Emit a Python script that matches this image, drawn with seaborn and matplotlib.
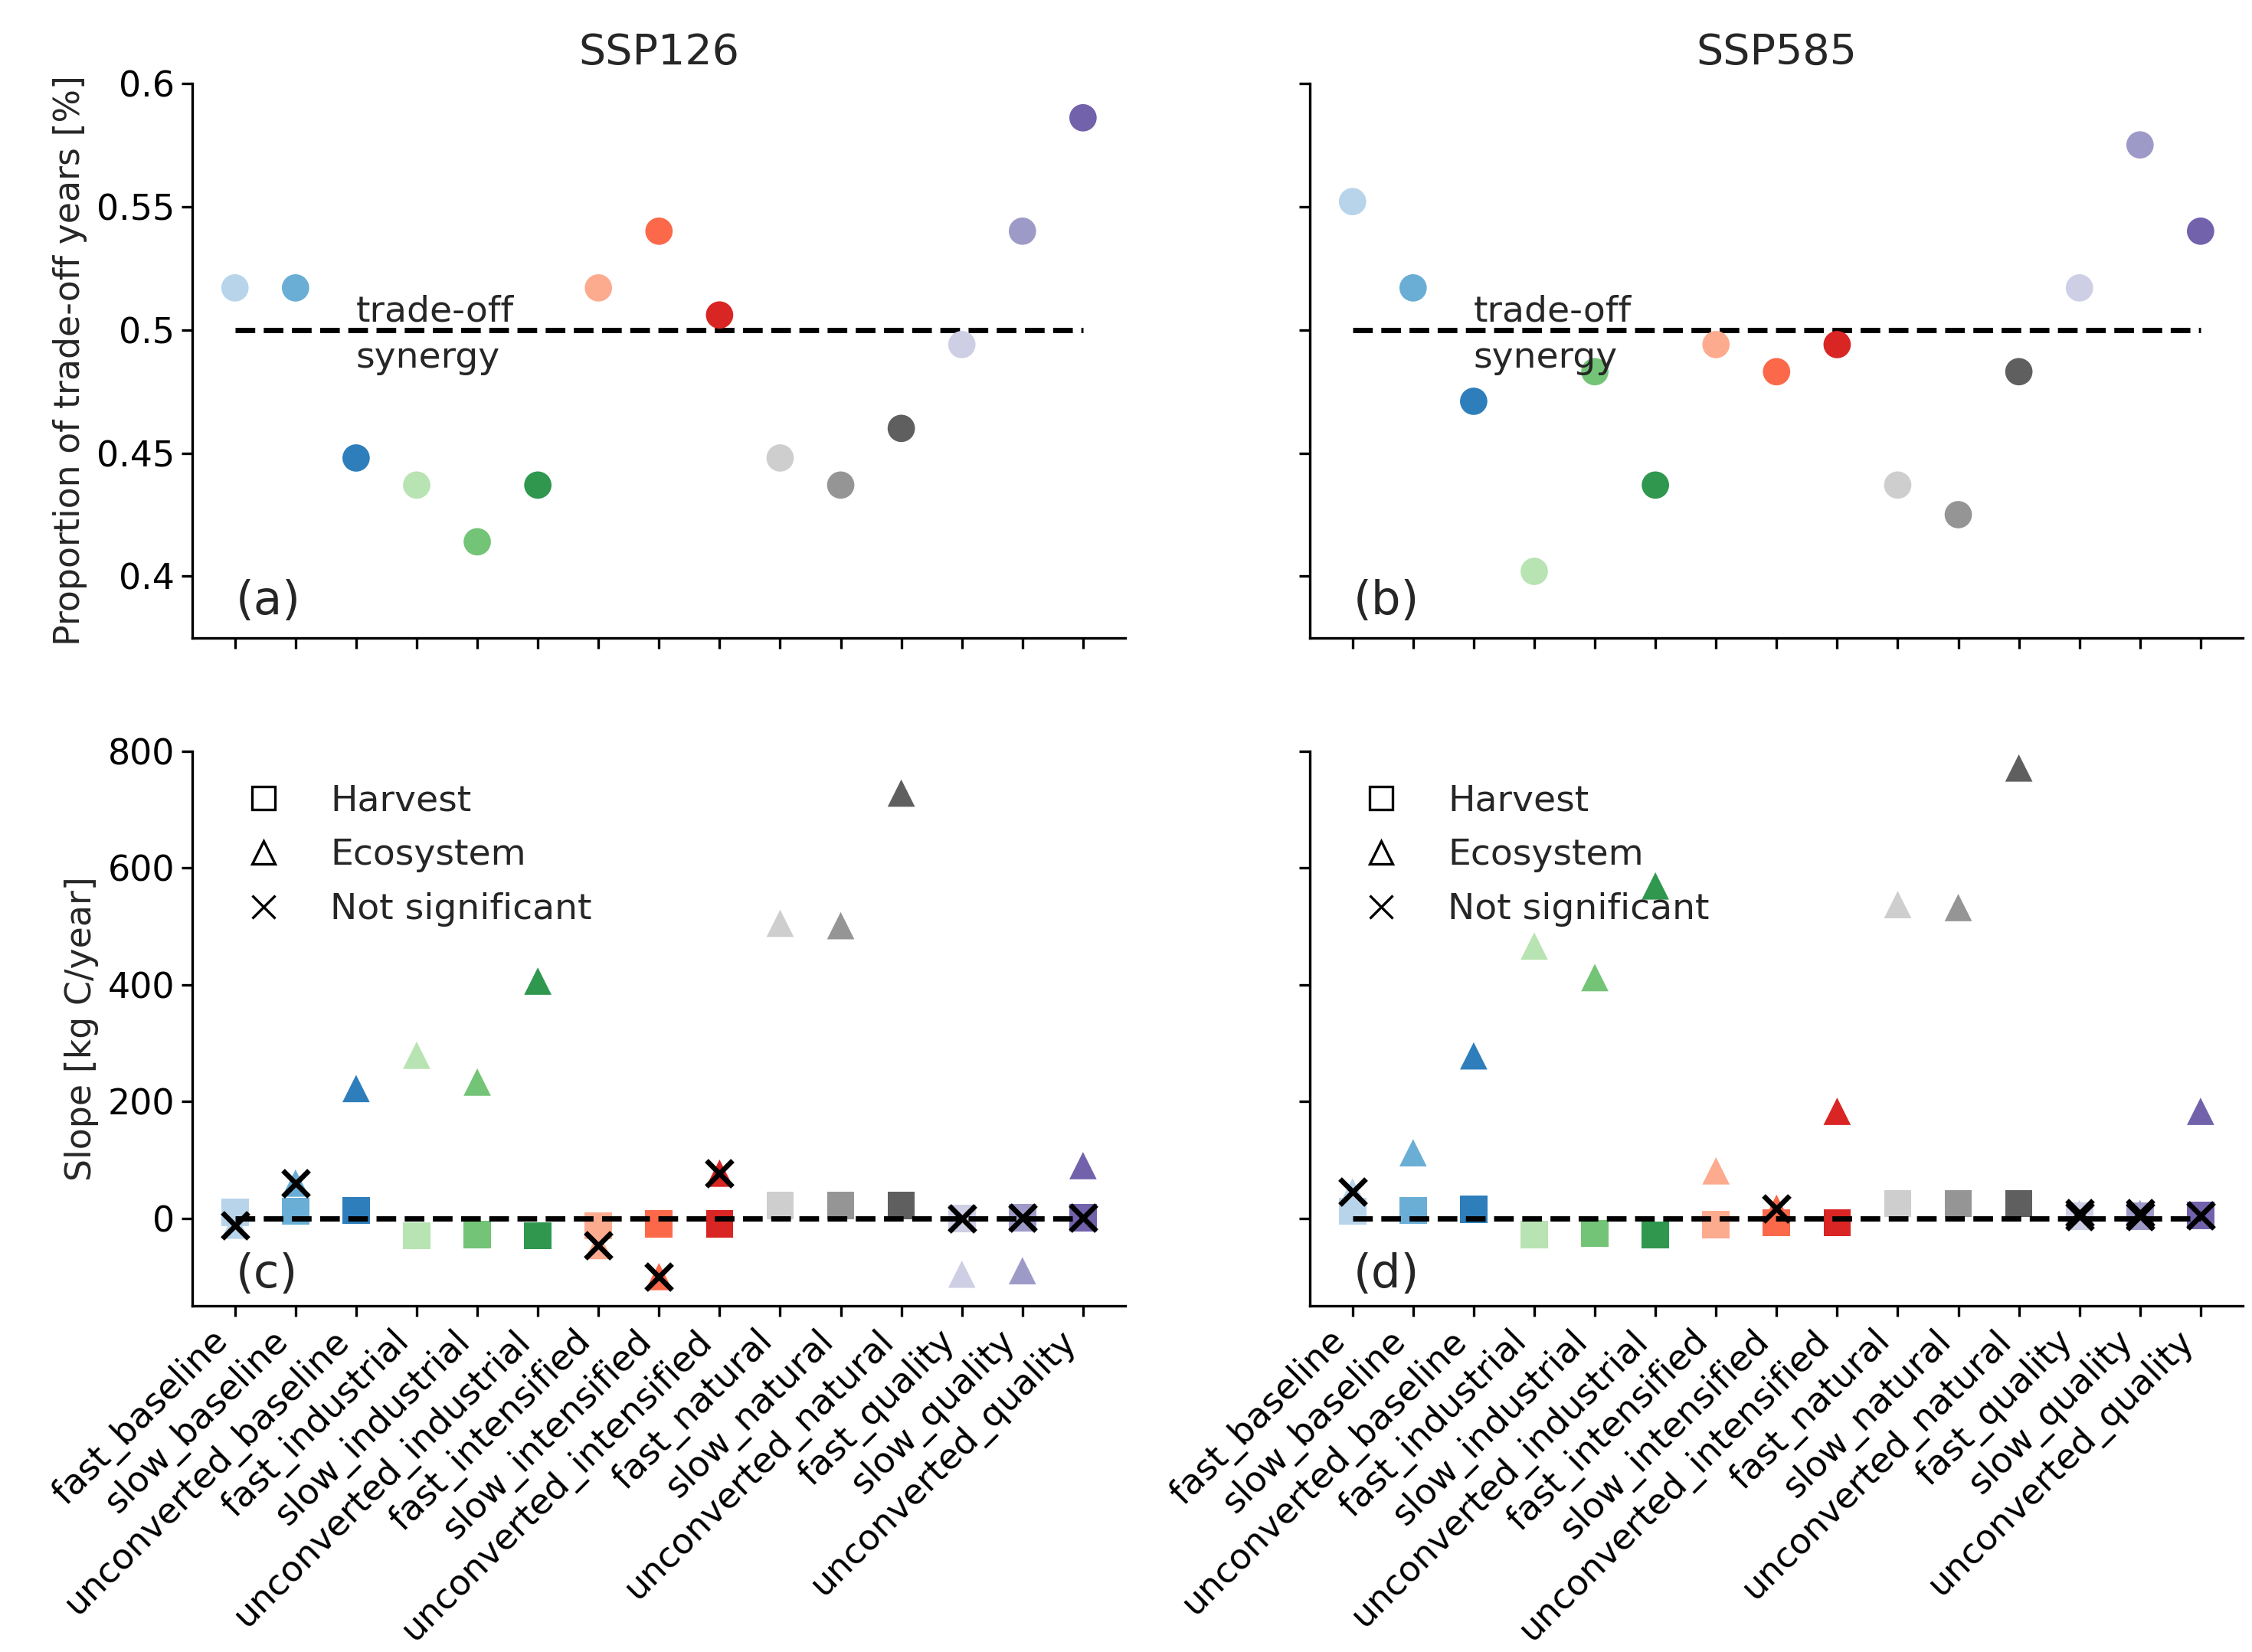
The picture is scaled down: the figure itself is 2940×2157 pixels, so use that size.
import matplotlib
matplotlib.use('Agg')
import matplotlib.pyplot as plt
from matplotlib.lines import Line2D
from matplotlib.ticker import FuncFormatter
import seaborn as sns
import numpy as np
import pandas as pd

sns.set_style('ticks')
plt.rcParams['font.family'] = ['DejaVu Sans']

cats = ['fast_baseline', 'slow_baseline', 'unconverted_baseline',
        'fast_industrial', 'slow_industrial', 'unconverted_industrial',
        'fast_intensified', 'slow_intensified', 'unconverted_intensified',
        'fast_natural', 'slow_natural', 'unconverted_natural',
        'fast_quality', 'slow_quality', 'unconverted_quality']
scenarios = ['SSP126', 'SSP585']

# proportion of trade-off years
prop_126 = [0.517, 0.517, 0.448, 0.437, 0.414, 0.437, 0.517, 0.540, 0.506,
            0.448, 0.437, 0.460, 0.494, 0.540, 0.586]
prop_585 = [0.552, 0.517, 0.471, 0.402, 0.483, 0.437, 0.494, 0.483, 0.494,
            0.437, 0.425, 0.483, 0.517, 0.575, 0.540]

# slopes [kg C/year]
harv_126 = [10, 12, 13, -30, -28, -30, -13, -10, -10, 22, 22, 22, -1, 1, 1]
eco_126 = [-12, 60, 222, 279, 233, 406, -47, -100, 77, 505, 501, 728, -96, -90, 90]
harv_585 = [12, 13, 15, -28, -26, -29, -11, -8, -8, 25, 25, 25, 3, 3, 5]
eco_585 = [45, 112, 278, 466, 412, 569, 81, 17, 183, 537, 532, 771, 8, 8, 183]

# 1 = not significant
ns_harv_126 = [0, 0, 0, 0, 0, 0, 0, 0, 0, 0, 0, 0, 1, 1, 1]
ns_eco_126 = [1, 1, 0, 0, 0, 0, 1, 1, 1, 0, 0, 0, 0, 0, 0]
ns_harv_585 = [0, 0, 0, 0, 0, 0, 0, 0, 0, 0, 0, 0, 1, 1, 1]
ns_eco_585 = [1, 0, 0, 0, 0, 0, 0, 1, 0, 0, 0, 0, 1, 1, 0]

cmaps = ['Blues', 'Greens', 'Reds', 'Greys', 'Purples']
colors = []
for cm in cmaps:
    for v in [0.3, 0.5, 0.7]:
        colors.append(plt.get_cmap(cm)(v))
pal = dict(zip(cats, colors))

fig, axes = plt.subplots(2, 2, figsize=(14.7, 10.785), sharey='row')
plt.subplots_adjust(left=0.0855, right=0.996, top=0.9496, bottom=0.2096,
                    hspace=0.204, wspace=0.198)

FS = 16.5
MS = 165

for j, (props, harv, eco, nsh, nse) in enumerate([
        (prop_126, harv_126, eco_126, ns_harv_126, ns_eco_126),
        (prop_585, harv_585, eco_585, ns_harv_585, ns_eco_585)]):
    ax = axes[0, j]
    df = pd.DataFrame({'cat': cats, 'prop': props})
    sns.scatterplot(data=df, x='cat', y='prop', hue='cat', palette=pal,
                    s=MS, linewidth=0, legend=False, ax=ax, zorder=3)
    ax.plot([cats[0], cats[-1]], [0.5, 0.5], 'k--', lw=2.5, zorder=2)
    ax.text(2, 0.5035, 'trade-off', fontsize=17, va='baseline', ha='left')
    ax.text(2, 0.4955, 'synergy', fontsize=17, va='top', ha='left')
    ax.set_ylim(0.375, 0.6)
    ax.set_yticks([0.4, 0.45, 0.5, 0.55, 0.6])
    ax.yaxis.set_major_formatter(FuncFormatter(lambda v, p: '%g' % round(v, 3)))
    ax.set_title(scenarios[j], fontsize=20, pad=9)
    ax.text(0.046, 0.025, '(%s)' % 'ab'[j], transform=ax.transAxes,
            fontsize=22, va='bottom', ha='left')
    ax.tick_params(labelbottom=False)
    ax.set_xlabel('')
    ax.set_ylabel('')

    ax = axes[1, j]
    dh = pd.DataFrame({'cat': cats, 'slope': harv, 'ns': nsh})
    de = pd.DataFrame({'cat': cats, 'slope': eco, 'ns': nse})
    sns.scatterplot(data=de, x='cat', y='slope', hue='cat', palette=pal,
                    marker='^', s=MS, linewidth=0, legend=False, ax=ax, zorder=3)
    sns.scatterplot(data=dh, x='cat', y='slope', hue='cat', palette=pal,
                    marker='s', s=MS, linewidth=0, legend=False, ax=ax, zorder=3)
    ns_all = pd.concat([dh[dh['ns'] == 1], de[de['ns'] == 1]])
    ax.plot([cats[0], cats[-1]], [0, 0], 'k--', lw=2.5, zorder=4)
    ax.scatter(ns_all['cat'], ns_all['slope'], marker='x', s=150, c='black',
               linewidths=2.4, zorder=5)
    ax.set_ylim(-150, 800)
    ax.set_yticks([0, 200, 400, 600, 800])
    ax.text(0.046, 0.015, '(%s)' % 'cd'[j], transform=ax.transAxes,
            fontsize=22, va='bottom', ha='left')
    ax.set_xticks(range(len(cats)))
    ax.set_xticklabels(cats, rotation=45, ha='right', fontsize=FS)
    ax.set_xlabel('')
    ax.set_ylabel('')
    handles = [Line2D([], [], marker='s', ls='none', mfc='none', mec='black', ms=11, mew=1.2),
               Line2D([], [], marker='^', ls='none', mfc='none', mec='black', ms=11, mew=1.2),
               Line2D([], [], marker='x', ls='none', color='black', ms=11, mew=1.2)]
    ax.legend(handles, ['Harvest', 'Ecosystem', 'Not significant'], frameon=False,
              loc='upper left', bbox_to_anchor=(0.002, 1.0), fontsize=17,
              labelspacing=0.55, handletextpad=0.85)

for ax in axes.flat:
    sns.despine(ax=ax)
    ax.tick_params(labelsize=FS, width=1.2, length=5, colors='black')
    for s in ['left', 'bottom']:
        ax.spines[s].set_linewidth(1.2)
        ax.spines[s].set_color('black')

axes[0, 0].set_ylabel('Proportion of trade-off years [%]', fontsize=FS)
axes[1, 0].set_ylabel('Slope [kg C/year]', fontsize=FS)

fig.savefig('out.png', dpi=200)
